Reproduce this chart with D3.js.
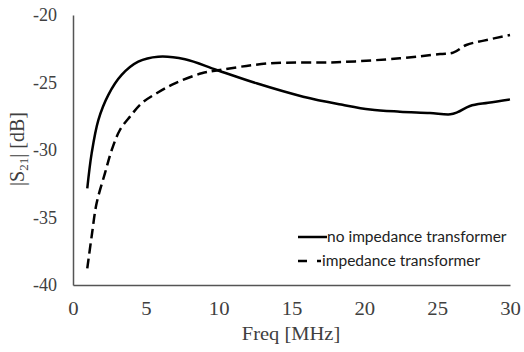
<!DOCTYPE html>
<html>
<head>
<meta charset="utf-8">
<script src="https://cdn.jsdelivr.net/npm/d3@7"></script>
<style>
  body { margin: 0; background: #fff; }
</style>
</head>
<body>
<div id="chart"></div>
<script>
const width = 524;
const height = 352;

// Frequency (MHz) and |S21| (dB)
const freqNoTransformer = [0.98, 1.28, 1.74, 2.42, 3.34, 4.48, 5.85, 7.69, 9.86, 12.6, 15.8, 18.5, 20.4, 22.44, 24.5, 25.9, 26.4, 27.25, 28.5, 30];
const s21NoTransformer = [-32.84, -30.25, -27.78, -25.93, -24.44, -23.46, -23.09, -23.28, -24.07, -25.06, -26.05, -26.65, -27.0, -27.16, -27.26, -27.36, -27.2, -26.74, -26.5, -26.25];

const freqTransformer = [0.98, 1.28, 1.62, 2.2, 2.66, 3.23, 3.91, 4.71, 5.74, 7.0, 8.83, 10.1, 13.5, 18.1, 22.44, 25.2, 26.1, 27.0, 28.2, 30];
const s21Transformer = [-38.77, -36.4, -33.95, -31.7, -30.0, -28.5, -27.53, -26.54, -25.8, -25.06, -24.32, -24.07, -23.58, -23.5, -23.21, -22.89, -22.79, -22.22, -21.9, -21.48];

const xTicks = [0, 5, 10, 15, 20, 25, 30];
const yTicks = [-40, -35, -30, -25, -20];
const legendLabels = ['no impedance transformer', 'impedance transformer'];

const margin = { top: 15, right: 14, bottom: 67, left: 73 };
const serif = 'Liberation Serif, Times New Roman, serif';
const textColor = '#404040';

const svg = d3.select('#chart')
    .append('svg')
    .attr('width', width)
    .attr('height', height)

const x = d3.scaleLinear().domain([0, 30]).range([margin.left, width - margin.right])
const y = d3.scaleLinear().domain([-40, -20]).range([height - margin.bottom, margin.top])

//Axes

const xAxis = svg.append('g')
    .attr('transform', 'translate(0,' + (height - margin.bottom) + ')')
    .call(d3.axisBottom(x).tickValues(xTicks).tickSize(0).tickFormat((d) => String(d)))
xAxis.select('.domain').attr('stroke', '#555').attr('stroke-width', 1.5)
xAxis.selectAll('.tick text')
    .attr('font-family', serif)
    .attr('font-size', 18)
    .attr('fill', textColor)
    .attr('y', 30)
    .attr('dy', 0)
    .attr('transform', 'scale(1.15,1)')

const yAxis = svg.append('g')
    .attr('transform', 'translate(' + margin.left + ',0)')
    .call(d3.axisLeft(y).tickValues(yTicks).tickSize(0).tickFormat((d) => String(d)))
yAxis.select('.domain').attr('stroke', '#555').attr('stroke-width', 1.5)
yAxis.selectAll('.tick text')
    .attr('font-family', serif)
    .attr('font-size', 18)
    .attr('fill', textColor)
    .attr('x', -16)

svg.append('text')
    .attr('transform', 'translate(291,340) scale(1.08,1)')
    .attr('text-anchor', 'middle')
    .attr('font-family', serif)
    .attr('font-size', 19)
    .attr('fill', textColor)
    .text('Freq [MHz]')

const yLabel = svg.append('text')
    .attr('transform', 'translate(24,149) rotate(-90)')
    .attr('text-anchor', 'middle')
    .attr('font-family', serif)
    .attr('font-size', 20)
    .attr('fill', textColor)
yLabel.append('tspan').text('|S')
yLabel.append('tspan').attr('font-size', 13).attr('dy', 4).text('21')
yLabel.append('tspan').attr('dy', -4).text('| [dB]')

//Lines

const line = d3.line()
    .x((d) => x(d[0]))
    .y((d) => y(d[1]))
    .curve(d3.curveCatmullRom.alpha(0.5))

svg.append('path')
    .datum(d3.zip(freqNoTransformer, s21NoTransformer))
    .attr('d', line)
    .attr('fill', 'none')
    .attr('stroke', '#000')
    .attr('stroke-width', 2.5)

svg.append('path')
    .datum(d3.zip(freqTransformer, s21Transformer))
    .attr('d', line)
    .attr('fill', 'none')
    .attr('stroke', '#000')
    .attr('stroke-width', 2.5)
    .attr('stroke-dasharray', '10,5')

//Legend

const legend = svg.append('g')
    .selectAll('g')
    .data(legendLabels)
    .enter()
    .append('g')
    .attr('transform', (d, i) => 'translate(298,' + (237 + i * 24) + ')')

legend.append('line')
    .attr('x1', 0)
    .attr('x2', (d, i) => i === 0 ? 29 : 23)
    .attr('stroke', '#000')
    .attr('stroke-width', 2.5)
    .attr('stroke-dasharray', (d, i) => i === 0 ? null : '9,10')

legend.append('text')
    .attr('x', (d, i) => i === 0 ? 29 : 24)
    .attr('y', 5)
    .attr('font-family', 'Lato, sans-serif')
    .attr('font-size', 15.5)
    .attr('fill', '#222')
    .text((d) => d)
</script>
</body>
</html>
